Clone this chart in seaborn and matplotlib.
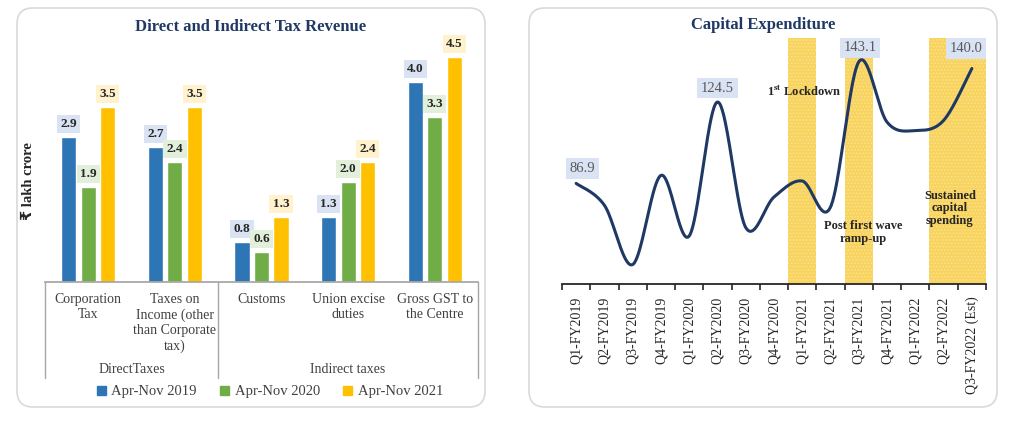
import numpy as np
import pandas as pd
import seaborn as sns
import matplotlib.pyplot as plt
from matplotlib.patches import FancyBboxPatch, Rectangle
from matplotlib.transforms import IdentityTransform

# ---- data: left panel ----
tax_types = ["Corporation\nTax", "Taxes on\nIncome (other\nthan Corporate\ntax)",
             "Customs", "Union excise\nduties", "Gross GST to\nthe Centre"]
periods = ["Apr-Nov 2019", "Apr-Nov 2020", "Apr-Nov 2021"]
rev_2019 = [2.9, 2.7, 0.8, 1.3, 4.0]
rev_2020 = [1.9, 2.4, 0.6, 2.0, 3.3]
rev_2021 = [3.5, 3.5, 1.3, 2.4, 4.5]
tax_groups = ["DirectTaxes", "Indirect taxes"]

# ---- data: right panel ----
quarters = ["Q1-FY2019", "Q2-FY2019", "Q3-FY2019", "Q4-FY2019",
            "Q1-FY2020", "Q2-FY2020", "Q3-FY2020", "Q4-FY2020",
            "Q1-FY2021", "Q2-FY2021", "Q3-FY2021", "Q4-FY2021",
            "Q1-FY2022", "Q2-FY2022", "Q3-FY2022 (Est)"]
capex = [86.9, 76.8, 49.4, 90.6, 62.6, 124.5, 66.5, 80.6,
         88.0, 76.0, 143.1, 115.2, 111.3, 116.0, 140.0]
labelled_quarters = [0, 5, 10, 14]
shaded_quarters = [8, 10, 13, 14]

bar_colors = ["#2e75b6", "#70ad47", "#ffc000"]
box_colors = ["#dae3f3", "#e2efda", "#fff2cc"]
navy = "#1f3864"


def configStyle():
    sns.set_theme(style="white")
    plt.rcParams['font.family'] = ['Liberation Serif', 'DejaVu Sans']
    plt.rcParams['mathtext.fontset'] = 'stix'
    plt.rcParams['hatch.linewidth'] = 0.6


def smooth(xs, ys, n=40):
    # catmull-rom through the points, like excel's smoothed line
    pts = np.column_stack([xs, ys]).astype(float)
    ext = np.vstack([pts[0], pts, pts[-1]])
    t = np.linspace(0, 1, n, endpoint=False)[:, None]
    out = []
    for i in range(len(pts) - 1):
        p0, p1, p2, p3 = ext[i], ext[i + 1], ext[i + 2], ext[i + 3]
        out.append(0.5 * (2 * p1 + (p2 - p0) * t
                          + (2 * p0 - 5 * p1 + 4 * p2 - p3) * t ** 2
                          + (3 * p1 - p0 - 3 * p2 + p3) * t ** 3))
    out.append(pts[-1:])
    return np.vstack(out)


def panelBox(fig, x, y, w, h):
    box = FancyBboxPatch((x, y), w, h, boxstyle="round,pad=0,rounding_size=16",
                         transform=IdentityTransform(), fc="none", ec="#d9d9d9",
                         lw=1.2, zorder=-1)
    fig.add_artist(box)


def plotTax(fig):
    ax = fig.add_axes([45 / 1023, 139 / 421, 433 / 1023, 247 / 421])
    ax.patch.set_alpha(0)
    df = pd.DataFrame({
        "type": tax_types * 3,
        "period": np.repeat(periods, len(tax_types)),
        "value": rev_2019 + rev_2020 + rev_2021,
    })
    sns.barplot(data=df, x="type", y="value", hue="period", palette=bar_colors,
                width=0.675, gap=0.22, legend=False, ax=ax, saturation=1)
    for cont, bc in zip(ax.containers, box_colors):
        ax.bar_label(cont, fmt="%.1f", padding=5, fontsize=9.5, fontweight="bold",
                     color="#262626",
                     bbox=dict(boxstyle="square,pad=0.25", fc=bc, ec="none"))
    ax.set_xlim(-0.5, 4.5)
    ax.set_ylim(0, 4.94)
    sns.despine(ax=ax, left=True)
    ax.spines["bottom"].set_color("#a6a6a6")
    ax.set_yticks([])
    ax.set_xlabel("")
    ax.set_xticks(range(len(tax_types)))
    ax.set_xticklabels(tax_types, fontsize=10, color="#404040", linespacing=1.22, va="top")
    ax.tick_params(axis="x", length=0, pad=8)
    ax.set_ylabel("₹ lakh crore", fontsize=10.5, fontweight="bold", color="#262626")
    ax.yaxis.set_label_coords(-0.022, 0.41)

    tr = ax.get_xaxis_transform()
    for xb in [-0.5, 1.5, 4.5]:
        ax.plot([xb, xb], [0, -0.389], transform=tr, clip_on=False, color="#a6a6a6", lw=1)
    ax.text(0.5, -0.354, tax_groups[0], transform=tr, ha="center", va="center",
            fontsize=10, color="#404040")
    ax.text(3.0, -0.354, tax_groups[1], transform=tr, ha="center", va="center",
            fontsize=10, color="#404040")

    handles = [Rectangle((0, 0), 1, 1, color=c) for c in bar_colors]
    ax.legend(handles, periods, loc="center", bbox_to_anchor=(0.52, -0.445), ncol=3,
              frameon=False, fontsize=10.5, handlelength=0.6, handleheight=0.6,
              handletextpad=0.4, columnspacing=1.6, labelcolor="#404040")
    fig.text(251 / 1023, 1 - 27 / 421, "Direct and Indirect Tax Revenue", ha="center",
             va="center", fontsize=12, fontweight="bold", color=navy)


def plotCapex(fig):
    ax = fig.add_axes([562 / 1023, 137 / 421, 424 / 1023, 246 / 421])
    ax.patch.set_alpha(0)
    for i in shaded_quarters:
        ax.axvspan(i - 0.5, i + 0.5, fc="#f8d45e", ec="#fbe39a", hatch=".....", lw=0, zorder=0)
    xs = np.arange(len(quarters))
    curve = smooth(xs, capex)
    ax.plot(curve[:, 0], curve[:, 1], color=navy, lw=2.2, solid_capstyle="round", zorder=3)
    offsets = {0: (6, 15), 5: (0, 14), 10: (1, 14), 14: (-6, 20)}
    for i in labelled_quarters:
        ax.annotate(f"{capex[i]:.1f}", xy=(i, capex[i]), xytext=offsets[i],
                    textcoords="offset pixels", ha="center", va="center",
                    fontsize=10.5, color="#595959", zorder=4,
                    bbox=dict(boxstyle="square,pad=0.25", fc="#dae3f3", ec="none"))
    ax.set_xlim(-0.5, len(quarters) - 0.5)
    ax.set_ylim(40.4, 154.1)
    sns.despine(ax=ax, left=True)
    ax.spines["bottom"].set_color("#262626")
    ax.spines["bottom"].set_linewidth(1.3)
    ax.set_yticks([])
    ax.set_xticks(xs)
    ax.set_xticklabels(quarters, rotation=90, fontsize=10, color="#262626")
    ax.set_xticks(np.arange(-0.5, len(quarters), 1), minor=True)
    ax.tick_params(axis="x", which="major", length=0, pad=9)
    ax.tick_params(axis="x", which="minor", length=4, width=1.2, color="#262626",
                   direction="out", bottom=True)

    ax.text(8.06, 129.1, r"1$^{\mathbf{st}}$ Lockdown", ha="center", va="center",
            fontsize=9, fontweight="bold", color="#262626", zorder=4)
    ax.text(10.15, 64.0, "Post first wave\nramp-up", ha="center", va="center",
            fontsize=9, fontweight="bold", color="#262626", linespacing=1.1, zorder=4)
    ax.text(13.22, 75.5, "Sustained\ncapital\nspending", ha="center", va="center",
            fontsize=9, fontweight="bold", color="#262626", linespacing=1.05, zorder=4)
    fig.text(763 / 1023, 1 - 25 / 421, "Capital Expenditure", ha="center",
             va="center", fontsize=12, fontweight="bold", color=navy)


configStyle()
fig = plt.figure(figsize=(10.23, 4.21), dpi=100)
panelBox(fig, 17, 14, 468, 399)
panelBox(fig, 529, 14, 468, 399)
plotTax(fig)
plotCapex(fig)
fig.savefig("out.png", dpi=100)
